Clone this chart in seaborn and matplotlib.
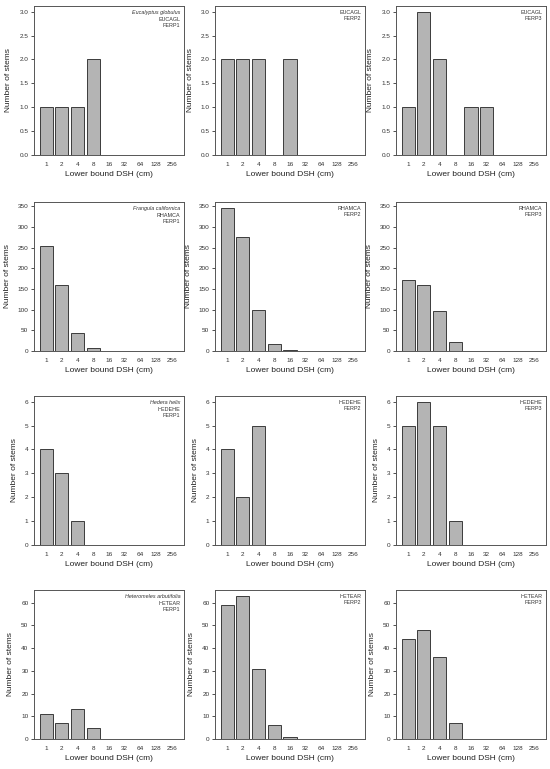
import matplotlib
matplotlib.use("Agg")
import matplotlib.pyplot as plt
import numpy as np
import pandas as pd
import seaborn as sns

# %% DATA
bins = ["1", "2", "4", "8", "16", "32", "64", "128", "256"]
plots = ["FERP1", "FERP2", "FERP3"]
species_codes = ["EUCAGL", "RHAMCA", "HEDEHE", "HETEAR"]
species_names = ["Eucalyptus globulus", "Frangula californica", "Hedera helix",
                 "Heteromeles arbutifolia"]

eucagl = [[1, 1, 1, 2, 0, 0, 0, 0, 0],
          [2, 2, 2, 0, 2, 0, 0, 0, 0],
          [1, 3, 2, 0, 1, 1, 0, 0, 0]]
rhamca = [[255, 159, 43, 8, 0, 0, 0, 0, 0],
          [347, 277, 100, 18, 3, 0, 0, 0, 0],
          [171, 160, 97, 21, 0, 0, 0, 0, 0]]
hedehe = [[4, 3, 1, 0, 0, 0, 0, 0, 0],
          [4, 2, 5, 0, 0, 0, 0, 0, 0],
          [5, 6, 5, 1, 0, 0, 0, 0, 0]]
hetear = [[11, 7, 13, 5, 0, 0, 0, 0, 0],
          [59, 63, 31, 6, 1, 0, 0, 0, 0],
          [44, 48, 36, 7, 0, 0, 0, 0, 0]]
counts = [eucagl, rhamca, hedehe, hetear]

y_ticks = [np.arange(0, 3.01, 0.5), np.arange(0, 351, 50),
           np.arange(0, 7, 1), np.arange(0, 61, 10)]
y_fmt = ["%.1f", "%d", "%d", "%d"]

# %% LAYOUT
sns.set_theme(style="white")
plt.rcParams["font.family"] = ["Liberation Sans", "DejaVu Sans"]

W, H = 550, 769
fig = plt.figure(figsize=(W / 100, H / 100), dpi=100)
col_left = [34, 215, 396]
row_top = [6, 202, 396, 590]
ax_w, ax_h = 150, 149

bar_w = 1 / 1.2
pad = (8 + bar_w) * 0.04  # R-style 4% expansion around the bars

for r, code in enumerate(species_codes):
    ymax = max(max(v) for v in counts[r]) * 1.04
    for c, plot in enumerate(plots):
        ax = fig.add_axes([col_left[c] / W, 1 - (row_top[r] + ax_h) / H,
                           ax_w / W, ax_h / H])
        df = pd.DataFrame({"bin": bins, "n": counts[r][c]})
        sns.barplot(data=df, x="bin", y="n", color="#b4b4b4", width=bar_w,
                    saturation=1, edgecolor="#3c3c3c", linewidth=0.7, ax=ax)
        ax.set_xlim(-bar_w / 2 - pad, 8 + bar_w / 2 + pad)
        ax.set_ylim(0, ymax)
        ax.set_yticks(y_ticks[r])
        ax.yaxis.set_major_formatter(matplotlib.ticker.FormatStrFormatter(y_fmt[r]))
        ax.tick_params(axis="y", direction="out", length=2.5, width=0.6,
                       labelsize=4.6, pad=1.5, left=True, colors="#333333")
        ax.tick_params(axis="x", length=0, labelsize=4.6, pad=5, colors="#333333")
        for s in ax.spines.values():
            s.set_color("#555555")
            s.set_linewidth(0.7)
        ax.set_xlabel("Lower bound DSH (cm)", fontsize=6, labelpad=3, color="#222222")
        ax.set_ylabel("Number of stems", fontsize=6, labelpad=5, color="#222222")

        # Species / plot label in top-right corner
        y0 = 0.975
        if c == 0:
            ax.text(0.975, y0, species_names[r], transform=ax.transAxes,
                    ha="right", va="top", fontsize=3.9, style="italic",
                    color="#333333")
            y0 -= 0.05
        ax.text(0.975, y0, code + "\n" + plot, transform=ax.transAxes,
                ha="right", va="top", fontsize=3.9, linespacing=1.25,
                color="#333333")

fig.savefig("out.png", dpi=100)
